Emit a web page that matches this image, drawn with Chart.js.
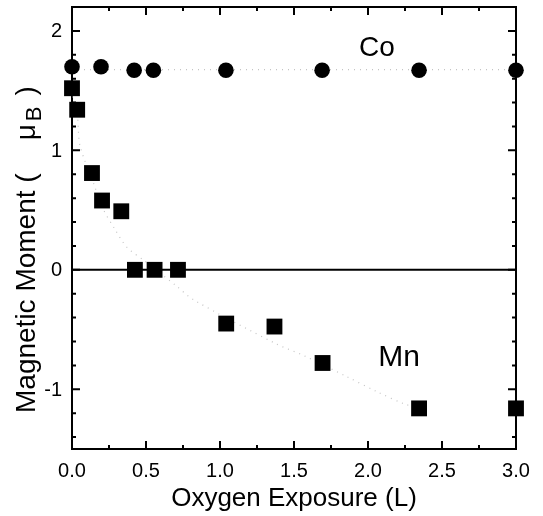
<!DOCTYPE html>
<html>
<head>
<meta charset="utf-8">
<script src="https://cdn.jsdelivr.net/npm/chart.js@4.4.0/dist/chart.umd.min.js"></script>
<style>
  html, body { margin: 0; padding: 0; background: #fff; }
</style>
</head>
<body>
<canvas id="chart" width="543" height="516"></canvas>
<script>
// Co moments (circles)
const coX = [0.0, 0.196, 0.42, 0.55, 1.04, 1.69, 2.345, 3.0];
const coY = [1.70, 1.70, 1.67, 1.67, 1.67, 1.67, 1.67, 1.67];
// Mn moments (squares)
const mnX = [0.0, 0.035, 0.135, 0.203, 0.333, 0.425, 0.558, 0.716, 1.042, 1.368, 1.693, 2.345, 3.0];
const mnY = [1.52, 1.34, 0.81, 0.58, 0.49, 0.0, 0.0, 0.0, -0.45, -0.475, -0.78, -1.16, -1.16];
// dotted guide curves
const coFitX = [0.0, 3.0];
const coFitY = [1.675, 1.675];
const mnFitX = [0.0, 0.035, 0.054, 0.144, 0.21, 0.29, 0.37, 0.49, 0.70, 0.82, 1.38, 1.57, 1.85, 2.06, 2.24, 2.35];
const mnFitY = [1.45, 1.30, 1.04, 0.73, 0.51, 0.34, 0.19, 0.075, -0.13, -0.25, -0.62, -0.72, -0.89, -1.02, -1.12, -1.16];
// axes
const xTicks = [0, 0.5, 1.0, 1.5, 2.0, 2.5, 3.0];
const xTickLabels = ['0.0', '0.5', '1.0', '1.5', '2.0', '2.5', '3.0'];
const xMinor = [0.25, 0.75, 1.25, 1.75, 2.25, 2.75];
const yTicks = [-1, 0, 1, 2];
const yTickLabels = ['-1', '0', '1', '2'];
const yMinor = [-1.4, -1.2, -0.8, -0.6, -0.4, -0.2, 0.2, 0.4, 0.6, 0.8, 1.2, 1.4, 1.6, 1.8];
// in-plot labels
const labelText = ['Co', 'Mn'];
const labelX = [2.06, 2.21];
const labelY = [1.79, -0.805];

const FONT = "'Liberation Sans', Arial, sans-serif";
const pts = (xs, ys) => xs.map((x, i) => ({ x, y: ys[i] }));

const frame = {
    id: 'frame',
    beforeDatasetsDraw(chart) {
        const { ctx, chartArea: a, scales: { x, y } } = chart;
        ctx.save();
        ctx.strokeStyle = '#000';
        ctx.lineWidth = 2;
        ctx.strokeRect(a.left, a.top, a.right - a.left, a.bottom - a.top);
        ctx.beginPath();
        const tick = (vals, len, horiz) => {
            vals.forEach(v => {
                if (horiz) {
                    const px = x.getPixelForValue(v);
                    ctx.moveTo(px, a.bottom); ctx.lineTo(px, a.bottom - len);
                    ctx.moveTo(px, a.top); ctx.lineTo(px, a.top + len);
                } else {
                    const py = y.getPixelForValue(v);
                    ctx.moveTo(a.left, py); ctx.lineTo(a.left + len, py);
                    ctx.moveTo(a.right, py); ctx.lineTo(a.right - len, py);
                }
            });
        };
        tick(xTicks, 8, true);
        tick(xMinor, 4, true);
        tick(yTicks, 8, false);
        tick(yMinor, 4, false);
        ctx.stroke();
        // zero line
        ctx.beginPath();
        const y0 = y.getPixelForValue(0);
        ctx.moveTo(a.left, y0); ctx.lineTo(a.right, y0);
        ctx.stroke();

        // tick labels
        ctx.fillStyle = '#000';
        ctx.font = '20px ' + FONT;
        ctx.textAlign = 'center';
        ctx.textBaseline = 'alphabetic';
        xTicks.forEach((v, i) => ctx.fillText(xTickLabels[i], x.getPixelForValue(v), a.bottom + 28));
        ctx.textAlign = 'right';
        ctx.textBaseline = 'middle';
        yTicks.forEach((v, i) => ctx.fillText(yTickLabels[i], a.left - 10, y.getPixelForValue(v) + 1));
        ctx.restore();
    },
    afterDraw(chart) {
        const { ctx, chartArea: a, scales: { x, y } } = chart;
        ctx.save();
        ctx.fillStyle = '#000';
        // Co / Mn labels
        ctx.textAlign = 'center';
        ctx.textBaseline = 'alphabetic';
        labelText.forEach((t, i) => {
            ctx.font = (i === 0 ? 28 : 30) + 'px ' + FONT;
            ctx.fillText(t, x.getPixelForValue(labelX[i]), y.getPixelForValue(labelY[i]));
        });
        // x title
        ctx.font = '26px ' + FONT;
        ctx.fillText('Oxygen Exposure (L)', (a.left + a.right) / 2, 506);
        // y title with subscript, written upward from the bottom
        const main = '28px ' + FONT, sub = '22px ' + FONT;
        const parts = [
            { t: 'Magnetic Moment (', f: main, dy: 0, gap: 0 },
            { t: '\u03bc', f: main, dy: 0, gap: 33 },
            { t: 'B', f: sub, dy: 6, gap: 3 },
            { t: ')', f: main, dy: 0, gap: 11 }
        ];
        ctx.translate(35, 413);
        ctx.rotate(-Math.PI / 2);
        ctx.textAlign = 'left';
        let cx = 0;
        parts.forEach(p => {
            cx += p.gap;
            ctx.font = p.f;
            ctx.fillText(p.t, cx, p.dy);
            cx += ctx.measureText(p.t).width;
        });
        ctx.restore();
    }
};

new Chart(document.getElementById('chart'), {
    type: 'scatter',
    data: {
        datasets: [
            {
                data: pts(coFitX, coFitY), showLine: true, pointRadius: 0,
                borderColor: '#c4c4c4', borderWidth: 1.2, borderDash: [1, 5], order: 5
            },
            {
                data: pts(mnFitX, mnFitY), showLine: true, pointRadius: 0, tension: 0.3,
                borderColor: '#c4c4c4', borderWidth: 1.2, borderDash: [1, 5], order: 5
            },
            {
                data: pts(coX, coY), pointStyle: 'circle', pointRadius: 7.8,
                backgroundColor: '#000', borderColor: '#000', borderWidth: 0, clip: false, order: 1
            },
            {
                data: pts(mnX, mnY), pointStyle: 'rect', pointRadius: 11.2,
                backgroundColor: '#000', borderColor: '#000', borderWidth: 0, clip: false, order: 1
            }
        ]
    },
    options: {
        responsive: false,
        animation: false,
        events: [],
        layout: { padding: { left: 0, top: 7, right: 27, bottom: 0 }, autoPadding: false },
        plugins: { legend: { display: false }, tooltip: { enabled: false } },
        scales: {
            x: {
                type: 'linear', min: 0, max: 3,
                grid: { display: false }, border: { display: false },
                ticks: { display: false },
                afterFit: s => { s.height = 67; }
            },
            y: {
                type: 'linear', min: -1.5, max: 2.2,
                grid: { display: false }, border: { display: false },
                ticks: { display: false },
                afterFit: s => { s.width = 72; }
            }
        }
    },
    plugins: [frame]
});
</script>
</body>
</html>
